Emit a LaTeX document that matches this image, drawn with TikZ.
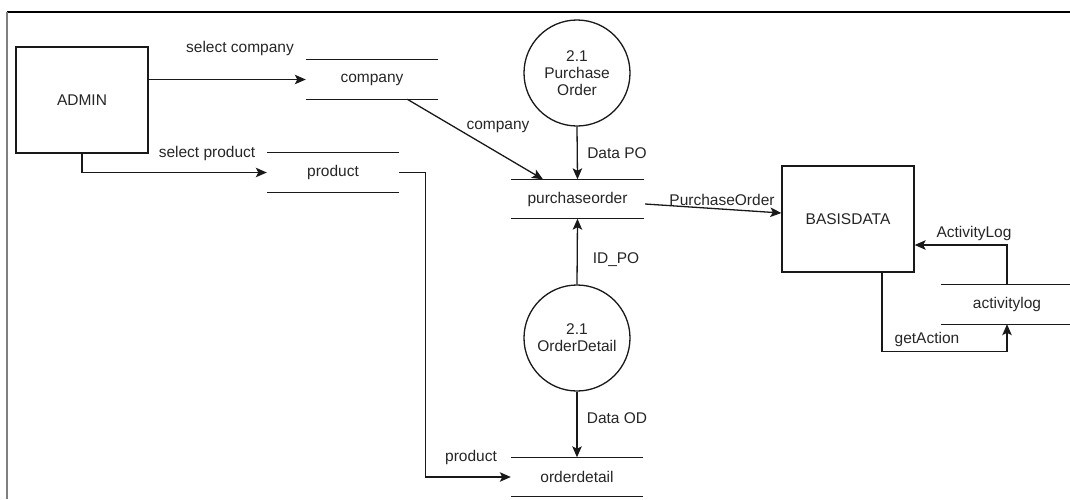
\documentclass[tikz,border=0pt]{standalone}
\usepackage{fontspec}
\setmainfont{Liberation Sans}
\usetikzlibrary{arrows.meta,calc}

\tikzset{
  every node/.style={font=\fontsize{15.5pt}{18pt}\selectfont, text=black!85},
  flow/.style={draw=black!90, line width=1.3pt, -{Stealth[length=11pt,width=9.5pt,inset=2.5pt]}},
  storeline/.style={draw=black!90, line width=1.3pt},
  entity/.style={draw=black!90, line width=1.3pt, minimum width=132pt, minimum height=106pt, inner sep=0pt},
  process/.style={circle, draw=black!90, line width=1.3pt, minimum size=106pt, inner sep=0pt, align=center, font=\fontsize{15.5pt}{17pt}\selectfont},
  store/.style={minimum width=132pt, minimum height=39pt, inner sep=0pt,
    append after command={
      (\tikzlastnode.north west) edge[storeline] (\tikzlastnode.north east)
      (\tikzlastnode.south west) edge[storeline] (\tikzlastnode.south east)}},
  lbl/.style={inner sep=1pt}
}

\begin{document}
\begin{tikzpicture}[x=1pt, y=-1pt]
  \useasboundingbox (0,0) rectangle (1070,499);
  \clip (0,0) rectangle (1070,499);

  % outer frame
  \draw[black, line width=2pt] (7,12) -- (1070,12);
  \draw[gray, line width=2pt] (7,12) -- (7,499);

  % external entities
  \node[entity] (admin) at (82,100) {ADMIN};
  \node[entity] (basis) at (848,219) {BASISDATA};

  % processes
  \node[process] (po) at (577,73) {2.1\\Purchase\\Order};
  \node[process] (od) at (577,338) {2.1\\OrderDetail};

  % data stores
  \node[store] (company) at (372,79.5) {company};
  \node[store] (product) at (333,172.5) {product};
  \node[store] (purchaseorder) at (577.5,199) {purchaseorder};
  \node[store] (orderdetail) at (577,477) {orderdetail};
  \node[store] (activitylog) at (1007,304.5) {activitylog};

  % flows
  \draw[flow] (admin.east |- company.west) -- (company.west);
  \draw[flow] (admin.south) |- (product.west);
  \draw[flow] (product.east) -- ++(26,0) |- (orderdetail.west);
  \draw[flow] ([xshift=-31pt]company.south east) -- ([xshift=-34.5pt]purchaseorder.north);
  \draw[flow] (po.south) -- (purchaseorder.north);
  \draw[flow] ([shift={(1.5pt,-5pt)}]purchaseorder.east) -- ([yshift=6pt]basis.west);
  \draw[flow] (od.north) -- (purchaseorder.south);
  \draw[flow] (od.south) -- (orderdetail.north);
  \draw[flow] (activitylog.north) |- ([yshift=-26pt]basis.east);
  \coordinate (ga) at ($(activitylog.south)+(0,27)$);
  \draw[flow] ([xshift=34pt]basis.south) |- (ga) -- (activitylog.south);

  % flow labels
  \node[lbl] (lselc) at (240,48) {select company};
  \node[lbl] (lselp) at (207,153) {select product};
  \node[lbl] (lcomp) at (498,127) {company};
  \node[lbl] (ldpo) at (617,153) {Data PO};
  \node[lbl] (lpo) at (722,200) {PurchaseOrder};
  \node[lbl] (lact) at (974,233) {ActivityLog};
  \node[lbl] (lget) at (927,339) {getAction};
  \node[lbl] (lid) at (616,260) {ID\_PO};
  \node[lbl] (ldod) at (617,418) {Data OD};
  \node[lbl] (lprod) at (471,457) {product};
\end{tikzpicture}
\end{document}
